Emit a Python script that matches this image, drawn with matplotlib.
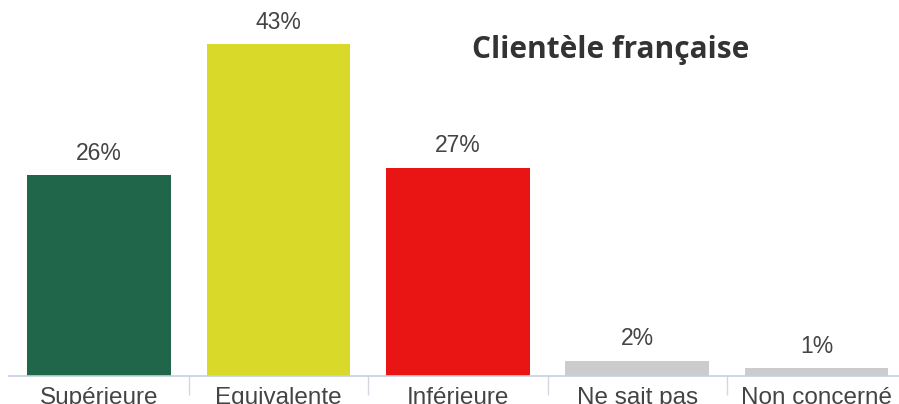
import matplotlib.pyplot as plt
import numpy as np

categories = ["Supérieure", "Equivalente", "Inférieure", "Ne sait pas", "Non concerné"]
values = [26, 43, 27, 2, 1]
colors = ["#20664A", "#D8D928", "#E91515", "#CCCCCC", "#CCCCCC"]

plt.rcParams['font.family'] = ['Liberation Sans', 'DejaVu Sans']

fig = plt.figure(figsize=(8.99, 4.04), dpi=100)
# axes span a bit beyond the right edge, like the cropped original
ax = fig.add_axes([9.3 / 899, 28 / 404, 897 / 899, 376 / 404])

x = np.arange(len(categories))
bars = ax.bar(x, values, width=0.8, color=colors, zorder=2)

for b, v in zip(bars, values):
    ax.annotate(f"{v}%", (b.get_x() + b.get_width() / 2, v),
                xytext=(0, 7.5), textcoords="offset points",
                ha="center", va="bottom", fontsize=16.5, color="#444444")

ax.set_xlim(-0.5, len(categories) - 0.5)
ax.set_ylim(0, 376 / 7.72)

ax.set_xticks(x)
ax.set_xticklabels(categories, fontsize=17.5, color="#444444")
ax.tick_params(axis="x", which="major", length=0, pad=8)
ax.set_xticks(x[:-1] + 0.5, minor=True)
ax.tick_params(axis="x", which="minor", length=14, color="#D3D8E0", width=1)
ax.set_yticks([])

for s in ["top", "right", "left"]:
    ax.spines[s].set_visible(False)
ax.spines["bottom"].set_color("#C5CFE6")
ax.spines["bottom"].set_linewidth(1.2)

fig.text(611 / 899, 1 - 58 / 404, "Clientèle française", ha="center", va="baseline",
         fontsize=21.5, fontweight="bold", color="#333333",
         family=["Open Sans", "DejaVu Sans"])

fig.savefig("out.png", dpi=100)
